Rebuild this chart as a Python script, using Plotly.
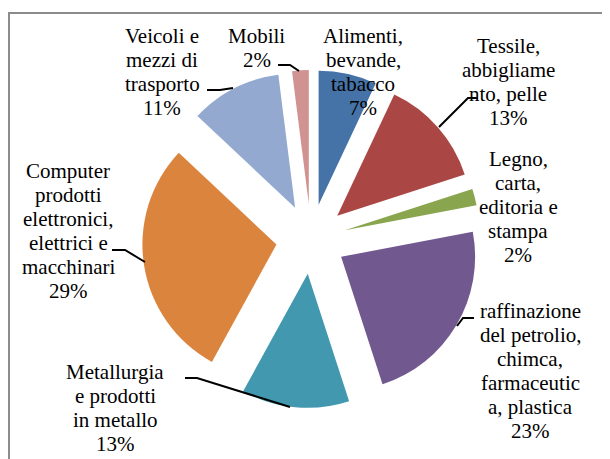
import plotly.graph_objects as go

# ---- data ----
categories = [
    "Alimenti, bevande, tabacco",
    "Tessile, abbigliamento, pelle",
    "Legno, carta, editoria e stampa",
    "raffinazione del petrolio, chimca, farmaceutica, plastica",
    "Metallurgia e prodotti in metallo",
    "Computer prodotti elettronici, elettrici e macchinari",
    "Veicoli e mezzi di trasporto",
    "Mobili",
]
values = [7, 13, 2, 23, 13, 29, 11, 2]
# label text as wrapped in the chart
label_lines = [
    ["Alimenti,", "bevande,", "tabacco"],
    ["Tessile,", "abbigliame", "nto, pelle"],
    ["Legno,", "carta,", "editoria e", "stampa"],
    ["raffinazione", "del petrolio,", "chimca,", "farmaceutic", "a, plastica"],
    ["Metallurgia", "e prodotti", "in metallo"],
    ["Computer", "prodotti", "elettronici,", "elettrici e", "macchinari"],
    ["Veicoli e", "mezzi di", "trasporto"],
    ["Mobili"],
]
colors = ["#4572A7", "#AA4643", "#89A54E", "#71588F",
          "#4198AF", "#DB843D", "#93A9CF", "#D19392"]

# ---- layout helpers (pixel positions in the page) ----
W, H = 610, 459
OFF = 8  # page margin around the plot div
label_pos = [  # (center x, first baseline y) in px
    (363, 43), (508, 53), (518, 166), (530, 318),
    (115, 379), (68, 178), (162, 43), (257, 43),
]
line_gap = 24
font_size = 21
FONT = "Liberation Serif, Times New Roman, serif"
leaders = [
    None,
    [(477, 98), (468, 98), (439, 127)],
    None,
    [(474, 318), (463, 318), (457, 326)],
    [(185, 378), (197, 378), (290, 407)],
    [(112, 250), (125, 250), (145, 262)],
    [(207, 90), (220, 90), (233, 88)],
    [(278, 65), (290, 65), (299, 71)],
]


def px(x, y):
    return (x - OFF) / W, 1 - (y - OFF) / H


cx, cy, R = 311, 239, 169
pull = 0.261
(dx0, dy1), (dx1, dy0) = px(cx - R, cy - R), px(cx + R, cy + R)

fig = go.Figure(go.Pie(
    labels=categories,
    values=values,
    sort=False,
    direction="clockwise",
    rotation=0,
    pull=[pull] * len(values),
    marker=dict(colors=colors, line=dict(width=0)),
    textinfo="none",
    hoverinfo="none",
    showlegend=False,
    domain=dict(x=[dx0, dx1], y=[dy0, dy1]),
))

annotations = []
for lines, v, (lx, ly) in zip(label_lines, values, label_pos):
    all_lines = lines + [f"{v}%"]
    for i, t in enumerate(all_lines):
        ax, ay = px(lx, ly + i * line_gap - 7)
        annotations.append(dict(
            x=ax, y=ay, xref="paper", yref="paper", text=t, showarrow=False,
            xanchor="center", yanchor="middle",
            font=dict(family=FONT, size=font_size, color="black"),
        ))

bx0, by1 = px(9, 13)
shapes = [dict(
    type="rect", xref="paper", yref="paper",
    x0=bx0, x1=1.2, y0=-0.2, y1=by1,
    line=dict(color="#8c8c8c", width=2), layer="below",
)]
for pts in leaders:
    if not pts:
        continue
    path = "M " + " L ".join(f"{px(x, y)[0]} {px(x, y)[1]}" for x, y in pts)
    shapes.append(dict(type="path", xref="paper", yref="paper", path=path,
                       line=dict(color="black", width=2)))

fig.update_layout(
    width=W, height=H,
    margin=dict(l=0, r=0, t=0, b=0),
    paper_bgcolor="white", plot_bgcolor="white",
    font=dict(family=FONT),
    annotations=annotations, shapes=shapes,
)
fig.write_html("out.html")
